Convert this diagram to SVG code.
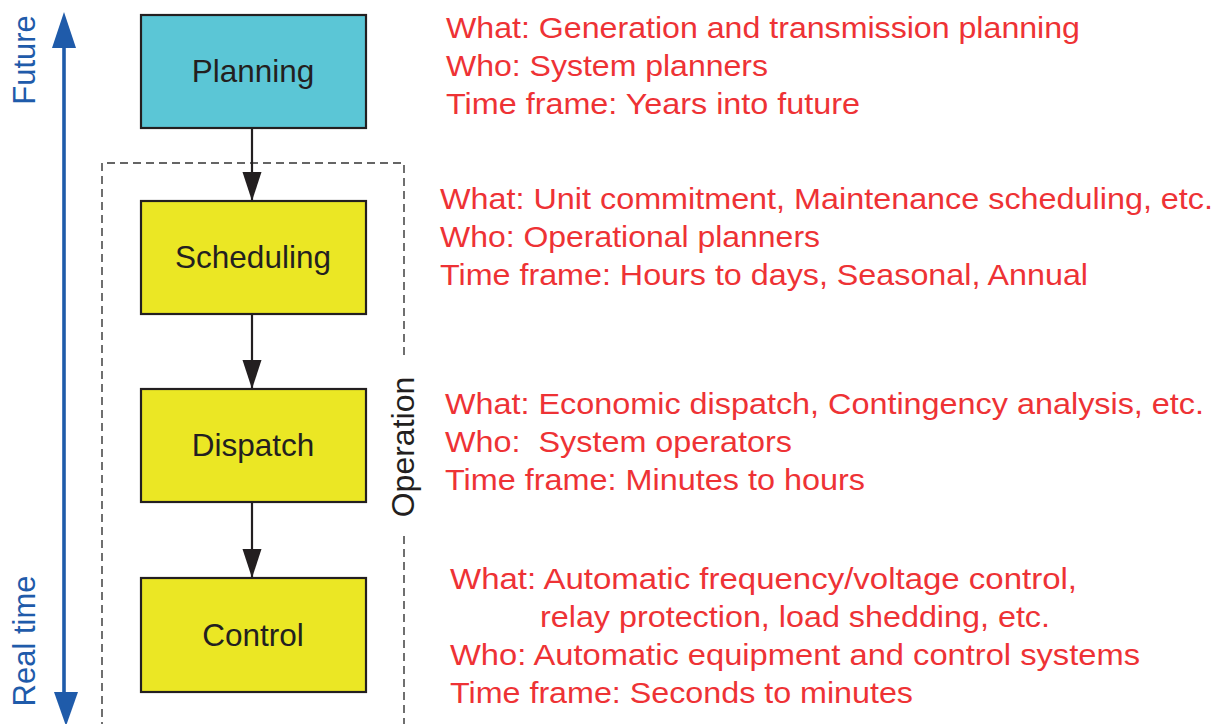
<svg xmlns="http://www.w3.org/2000/svg" width="1230" height="724" viewBox="0 0 1230 724">
<defs>
<style>
.node rect{stroke:#231F20;stroke-width:2.2}
.plan{fill:#5BC6D6}
.yel{fill:#EBE724}
.lbl{font-family:"Liberation Sans",Arial,sans-serif;font-size:31.5px;fill:#231F20;text-anchor:middle}
.red{font-family:"Liberation Sans",Arial,sans-serif;font-size:30px;fill:#EE3235;white-space:pre}
.blue{font-family:"Liberation Sans",Arial,sans-serif;font-size:31px;fill:#1F5BAA;text-anchor:middle}
.op{font-family:"Liberation Sans",Arial,sans-serif;font-size:32px;fill:#231F20;text-anchor:middle}
.conn{stroke:#231F20;stroke-width:2.2;fill:none}
.dash{stroke:#333;stroke-width:1.4;fill:none;stroke-dasharray:8 5}
</style>
<marker id="ah" markerUnits="userSpaceOnUse" markerWidth="30" markerHeight="20" refX="29" refY="10" orient="auto" viewBox="0 0 30 20">
<path d="M0,0.5 L29,10 L0,19.5 Z" fill="#231F20"/>
</marker>
</defs>
<rect width="1230" height="724" fill="#fff"/>

<g id="time-axis">
<line x1="64" y1="44" x2="64" y2="696" stroke="#1F5BAA" stroke-width="3.6"/>
<path d="M52,48 L64,12 L76,48 Z" fill="#1F5BAA"/>
<path d="M54,692 L66,726 L78,692 Z" fill="#1F5BAA"/>
<text class="blue" transform="translate(35,60) rotate(-90)">Future</text>
<text class="blue" transform="translate(35,641) rotate(-90)">Real time</text>
</g>

<g id="operation-group">
<path class="dash" d="M102,730 L102,163 L404,163 L404,358"/>
<path class="dash" d="M404,536 L404,730"/>
<text class="op" transform="translate(414,447) rotate(-90)">Operation</text>
</g>

<g id="connectors">
<line class="conn" x1="252" y1="128" x2="252" y2="201" marker-end="url(#ah)"/>
<line class="conn" x1="252" y1="314" x2="252" y2="389" marker-end="url(#ah)"/>
<line class="conn" x1="252" y1="502" x2="252" y2="578" marker-end="url(#ah)"/>
</g>

<g id="planning" class="node">
<rect class="plan" x="141" y="15" width="225" height="113"/>
<text class="lbl" x="253" y="82">Planning</text>
</g>
<g id="scheduling" class="node">
<rect class="yel" x="141" y="201" width="225" height="113"/>
<text class="lbl" x="253" y="268">Scheduling</text>
</g>
<g id="dispatch" class="node">
<rect class="yel" x="141" y="389" width="225" height="113"/>
<text class="lbl" x="253" y="456">Dispatch</text>
</g>
<g id="control" class="node">
<rect class="yel" x="141" y="578" width="225" height="114"/>
<text class="lbl" x="253" y="646">Control</text>
</g>

<g id="planning-notes">
<text class="red" x="446" y="38" textLength="634" lengthAdjust="spacingAndGlyphs">What: Generation and transmission planning</text>
<text class="red" x="446" y="76" textLength="322" lengthAdjust="spacingAndGlyphs">Who: System planners</text>
<text class="red" x="446" y="114" textLength="414" lengthAdjust="spacingAndGlyphs">Time frame: Years into future</text>
</g>
<g id="scheduling-notes">
<text class="red" x="440" y="209" textLength="773" lengthAdjust="spacingAndGlyphs">What: Unit commitment, Maintenance scheduling, etc.</text>
<text class="red" x="440" y="247" textLength="380" lengthAdjust="spacingAndGlyphs">Who: Operational planners</text>
<text class="red" x="440" y="285" textLength="648" lengthAdjust="spacingAndGlyphs">Time frame: Hours to days, Seasonal, Annual</text>
</g>
<g id="dispatch-notes">
<text class="red" x="445" y="414" textLength="759" lengthAdjust="spacingAndGlyphs">What: Economic dispatch, Contingency analysis, etc.</text>
<text class="red" x="445" y="452" textLength="347" lengthAdjust="spacingAndGlyphs">Who:  System operators</text>
<text class="red" x="445" y="490" textLength="420" lengthAdjust="spacingAndGlyphs">Time frame: Minutes to hours</text>
</g>
<g id="control-notes">
<text class="red" x="450" y="589" textLength="627" lengthAdjust="spacingAndGlyphs">What: Automatic frequency/voltage control,</text>
<text class="red" x="540" y="627" textLength="510" lengthAdjust="spacingAndGlyphs">relay protection, load shedding, etc.</text>
<text class="red" x="450" y="665" textLength="690" lengthAdjust="spacingAndGlyphs">Who: Automatic equipment and control systems</text>
<text class="red" x="450" y="703" textLength="463" lengthAdjust="spacingAndGlyphs">Time frame: Seconds to minutes</text>
</g>
</svg>
